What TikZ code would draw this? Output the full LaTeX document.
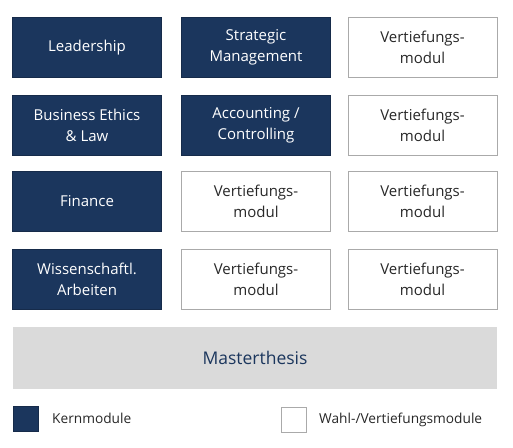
\documentclass[tikz,border=0pt]{standalone}
\usepackage{fontspec}
\setmainfont{Open Sans}
\definecolor{navy}{RGB}{27,54,93}
\definecolor{frame}{RGB}{170,170,170}
\definecolor{thesis}{RGB}{218,218,218}
\definecolor{txt}{RGB}{40,40,40}
\begin{document}
\begin{tikzpicture}[x=1pt,y=-1pt,
  box/.style={minimum width=149pt,minimum height=60pt,inner sep=0pt,align=center,
    font=\fontsize{15}{21.5}\selectfont},
  kern/.style={box,fill=navy,draw=navy!80!black,line width=0.6pt,text=white},
  wahl/.style={box,fill=white,draw=frame,line width=0.8pt,text=txt},
  leg/.style={anchor=west,inner sep=0pt,text=txt,font=\fontsize{13.7}{16}\selectfont}]
\useasboundingbox[fill=white] (0,0) rectangle (513,447);
\node[kern] (l) at (87,47.5) {Leadership};
\node[kern] (sm) at (256,47.5) {Strategic\\Management};
\node[wahl] (v13) at (422.5,47.5) {Vertiefungs-\\modul};
\node[kern] (be) at (87,125.5) {Business Ethics\\\& Law};
\node[kern] (ac) at (256,125.5) {Accounting /\\Controlling};
\node[wahl] (v23) at (422.5,125.5) {Vertiefungs-\\modul};
\node[kern] (fi) at (87,201.5) {Finance};
\node[wahl] (v32) at (256,201.5) {Vertiefungs-\\modul};
\node[wahl] (v33) at (422.5,201.5) {Vertiefungs-\\modul};
\node[kern] (wa) at (87,279.5) {Wissenschaftl.\\Arbeiten};
\node[wahl] (v42) at (256,279.5) {Vertiefungs-\\modul};
\node[wahl] (v43) at (422.5,279.5) {Vertiefungs-\\modul};
\node[fill=thesis,minimum width=484pt,minimum height=62pt,inner sep=0pt,text=navy,
  font=\fontsize{17.5}{20}\selectfont] (mt) at (255,358) {Masterthesis};
\node[fill=navy,draw=navy!80!black,line width=0.6pt,minimum size=25pt,inner sep=0pt] (lk) at (26,418.5) {};
\node[leg] (tk) at (52,418.5) {Kernmodule};
\node[fill=white,draw=frame,line width=0.8pt,minimum size=25pt,inner sep=0pt] (lw) at (293.5,420) {};
\node[leg] (tw) at (319,420) {Wahl-/Vertiefungsmodule};
\end{tikzpicture}
\end{document}
